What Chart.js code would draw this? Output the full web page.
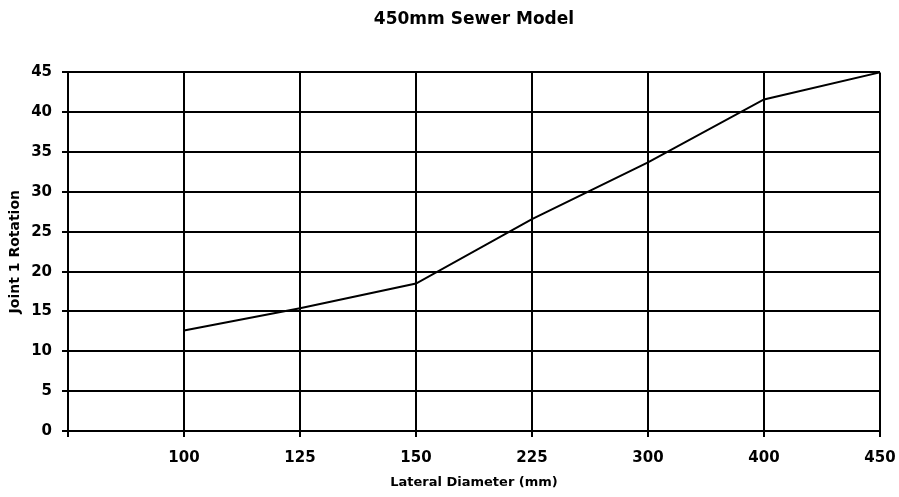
<!DOCTYPE html>
<html>
<head>
<meta charset="utf-8">
<title>450mm Sewer Model</title>
<script src="https://cdn.jsdelivr.net/npm/chart.js@4/dist/chart.umd.min.js"></script>
<style>
  html, body { margin: 0; padding: 0; background: #fff; }
  #wrap { width: 899px; height: 497px; position: relative; }
</style>
</head>
<body>
<div id="wrap"><canvas id="sewer-chart"></canvas></div>
<script>
// categorias do eixo X (a primeira fica vazia, na origem do eixo)
const diameters = ["", "100", "125", "150", "225", "300", "400", "450"];
// rotação da junta 1 para cada diâmetro lateral
const jointRotation = [null, 12.6, 15.4, 18.5, 26.6, 33.7, 41.6, 45];
const yTicks = [0, 5, 10, 15, 20, 25, 30, 35, 40, 45];

const FONT = "'DejaVu Sans', 'Liberation Sans', sans-serif";
Chart.defaults.font.family = FONT;
Chart.defaults.font.weight = "bold";
Chart.defaults.color = "#000";

const ctx = document.getElementById("sewer-chart").getContext("2d");
const sewerChart = new Chart(ctx, {
  type: "line",
  data: {
    labels: diameters,
    datasets: [
      {
        label: "Joint 1 Rotation",
        data: jointRotation,
        borderColor: "#000",
        borderWidth: 2,
        pointRadius: 0,
        tension: 0,
        fill: false,
      },
    ],
  },
  options: {
    responsive: true,
    maintainAspectRatio: false,
    animation: false,
    layout: { padding: { left: 0, right: 0, top: 0, bottom: 0 } },
    plugins: {
      legend: { display: false },
      tooltip: { enabled: false },
      title: {
        display: true,
        fullSize: false,
        text: "450mm Sewer Model",
        font: { size: 17, weight: "bold" },
        padding: { top: 9, bottom: 43 },
      },
    },
    scales: {
      x: {
        offset: false,
        grid: { color: "#000", lineWidth: 2, tickLength: 6 },
        border: { color: "#000", width: 2 },
        ticks: { font: { size: 15, weight: "bold" }, padding: 12, maxRotation: 0 },
        title: {
          display: true,
          text: "Lateral Diameter (mm)",
          font: { size: 13, weight: "bold" },
          padding: { top: 6, bottom: 7 },
        },
        afterFit: (scale) => {
          scale.height = 66;
          scale.paddingRight = 19;
        },
      },
      y: {
        min: 0,
        max: 45,
        afterBuildTicks: (scale) => {
          scale.ticks = yTicks.map((v) => ({ value: v }));
        },
        grid: { color: "#000", lineWidth: 2, tickLength: 6 },
        border: { color: "#000", width: 2 },
        ticks: { font: { size: 15, weight: "bold" }, padding: 10 },
        title: {
          display: true,
          text: "Joint 1 Rotation",
          font: { size: 14, weight: "bold" },
          padding: { top: 7, bottom: 4 },
        },
        afterFit: (scale) => { scale.width = 68; },
      },
    },
  },
});
</script>
</body>
</html>
